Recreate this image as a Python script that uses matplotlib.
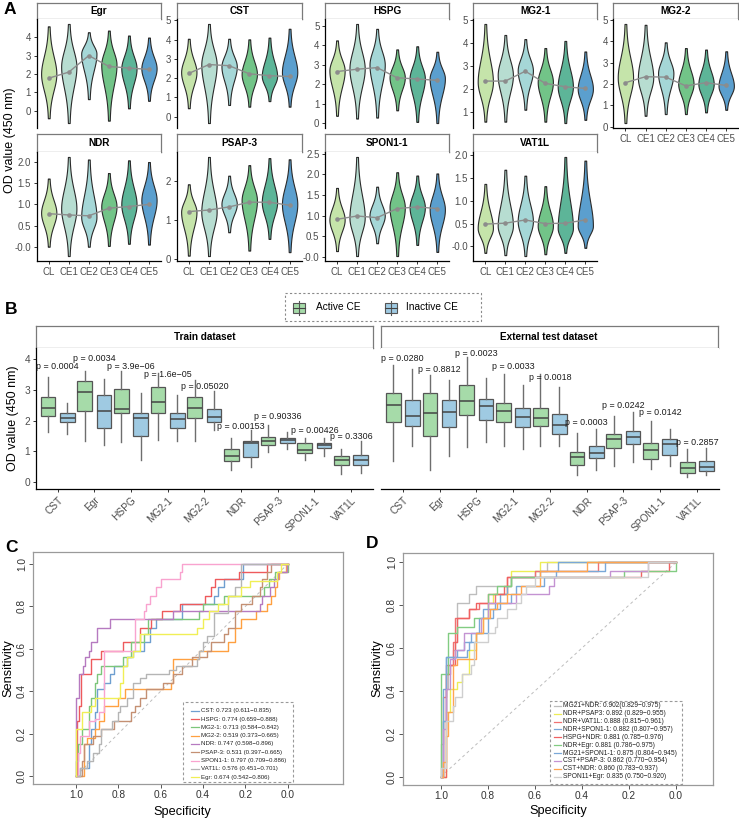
import numpy as np
import matplotlib
matplotlib.use('Agg')
import matplotlib.pyplot as plt
from matplotlib.patches import Rectangle
from matplotlib.lines import Line2D

plt.rcParams['font.family'] = ['Liberation Sans', 'DejaVu Sans']

W, H = 739, 819
fig = plt.figure(figsize=(W / 100, H / 100), dpi=100)

# ---------------- data: panel A (violins) ----------------
stages = ['CL', 'CE1', 'CE2', 'CE3', 'CE4', 'CE5']
stage_colors = ['#c5e4aa', '#b7ddd1', '#a5d7d7', '#72c488', '#5db598', '#5b9fce']
genes_A = ['Egr', 'CST', 'HSPG', 'MG2-1', 'MG2-2', 'NDR', 'PSAP-3', 'SPON1-1', 'VAT1L']

egr_min = [-0.41, -0.67, 0.63, -0.54, 0.13, 0.54]
egr_max = [4.59, 4.72, 4.27, 4.36, 4.09, 3.98]
egr_mean = [1.77, 2.10, 3.00, 2.41, 2.32, 2.25]
egr_mode = [2.0, 2.4, 3.1, 2.5, 2.3, 2.3]

cst_min = [0.43, -0.34, 0.60, 0.51, 0.80, 0.51]
cst_max = [4.04, 4.81, 4.04, 4.01, 4.10, 4.56]
cst_mean = [2.24, 2.70, 2.64, 2.22, 2.12, 2.08]
cst_mode = [2.3, 2.7, 2.6, 2.2, 2.1, 2.3]

hspg_min = [0.39, 0.25, 0.30, 0.67, 0.08, 0.02]
hspg_max = [4.24, 5.08, 4.83, 3.78, 3.94, 3.66]
hspg_mean = [2.65, 2.77, 2.85, 2.33, 2.27, 2.20]
hspg_mode = [2.7, 2.8, 3.0, 2.35, 2.3, 2.3]

mg21_min = [0.57, 0.57, 1.09, 0.57, 0.51, 0.65]
mg21_max = [4.83, 4.35, 4.17, 3.78, 4.09, 3.63]
mg21_mean = [2.34, 2.34, 2.77, 2.24, 2.09, 2.02]
mg21_mode = [2.3, 2.6, 2.8, 2.3, 2.1, 2.0]

mg22_min = [0.17, 0.51, 0.59, 0.59, 0.67, 0.79]
mg22_max = [4.81, 4.77, 3.95, 3.68, 3.61, 3.53]
mg22_mean = [2.06, 2.34, 2.32, 1.91, 2.06, 1.93]
mg22_mode = [2.3, 2.3, 2.5, 2.0, 2.0, 1.9]

ndr_min = [0.0, -0.22, 0.0, 0.02, 0.07, 0.05]
ndr_max = [1.61, 2.12, 2.06, 1.74, 2.04, 2.0]
ndr_mean = [0.78, 0.75, 0.73, 0.91, 0.95, 1.0]
ndr_mode = [0.8, 0.9, 0.7, 0.95, 1.0, 1.1]

psap_min = [0.08, 0.07, 0.68, 0.21, 0.51, 0.17]
psap_max = [1.91, 2.61, 2.13, 2.40, 2.58, 2.55]
psap_mean = [1.21, 1.25, 1.33, 1.45, 1.45, 1.37]
psap_mode = [1.2, 1.2, 1.4, 1.5, 1.45, 1.4]

spon_min = [0.14, 0.02, 0.33, 0.02, 0.29, 0.12]
spon_max = [1.67, 2.42, 1.70, 2.05, 1.97, 2.02]
spon_mean = [0.91, 0.99, 0.95, 1.17, 1.21, 1.17]
spon_mode = [0.9, 0.95, 1.0, 1.2, 1.2, 1.15]

vat_min = [-0.14, -0.19, -0.21, -0.17, -0.14, -0.03]
vat_max = [1.37, 1.68, 1.55, 1.32, 1.96, 1.88]
vat_mean = [0.49, 0.51, 0.58, 0.50, 0.51, 0.58]
vat_mode = [0.4, 0.45, 0.55, 0.45, 0.4, 0.45]

# ---------------- data: panel B (boxplots) ----------------
genes_B = ['CST', 'Egr', 'HSPG', 'MG2-1', 'MG2-2', 'NDR', 'PSAP-3', 'SPON1-1', 'VAT1L']

train_act_lo = [1.62, 1.32, 1.30, 1.37, 1.35, 0.40, 0.99, 0.70, 0.26]
train_act_q1 = [2.16, 2.32, 2.24, 2.24, 2.08, 0.67, 1.19, 0.96, 0.56]
train_act_med = [2.42, 2.92, 2.37, 2.62, 2.40, 0.86, 1.34, 1.03, 0.72]
train_act_q3 = [2.78, 3.30, 3.03, 3.10, 2.78, 1.08, 1.48, 1.26, 0.86]
train_act_hi = [3.43, 3.61, 3.61, 3.57, 3.34, 1.43, 1.86, 1.43, 1.08]

train_ina_lo = [1.56, 1.21, 0.70, 1.34, 1.68, 0.49, 1.08, 0.86, 0.29]
train_ina_q1 = [1.95, 1.75, 1.51, 1.77, 1.95, 0.81, 1.26, 1.10, 0.56]
train_ina_med = [2.10, 2.32, 2.08, 2.04, 2.11, 1.26, 1.36, 1.19, 0.72]
train_ina_q3 = [2.26, 2.85, 2.24, 2.24, 2.37, 1.35, 1.43, 1.26, 0.89]
train_ina_hi = [2.56, 3.35, 2.91, 2.83, 2.96, 1.68, 1.62, 1.43, 1.34]

test_act_lo = [0.67, 0.38, 1.14, 1.16, 1.18, 0.22, 0.51, 0.42, 0.15]
test_act_q1 = [1.97, 1.51, 2.18, 1.97, 1.81, 0.56, 1.10, 0.75, 0.29]
test_act_med = [2.51, 2.24, 2.65, 2.32, 2.08, 0.81, 1.39, 1.03, 0.45]
test_act_q3 = [2.89, 2.89, 3.16, 2.58, 2.42, 0.99, 1.57, 1.26, 0.65]
test_act_hi = [3.83, 3.50, 4.08, 3.51, 3.51, 1.59, 2.16, 2.00, 1.07]

test_ina_lo = [1.16, 0.85, 1.29, 1.08, 1.16, 0.40, 0.65, 0.51, 0.22]
test_ina_q1 = [1.81, 1.78, 2.02, 1.78, 1.56, 0.78, 1.23, 0.89, 0.37]
test_ina_med = [2.16, 2.29, 2.48, 2.13, 1.86, 0.96, 1.48, 1.23, 0.49]
test_ina_q3 = [2.67, 2.67, 2.72, 2.40, 2.22, 1.16, 1.66, 1.39, 0.69]
test_ina_hi = [3.70, 3.32, 3.39, 3.16, 3.09, 1.73, 2.29, 1.72, 1.10]

train_p = ['0.0004', '0.0034', '3.9e\u221206', '1.6e\u221205', '0.05020', '0.00153', '0.90336', '0.00426', '0.3306']
train_p_y = [3.75, 4.02, 3.77, 3.50, 3.12, 1.80, 2.15, 1.68, 1.48]
test_p = ['0.0280', '0.8812', '0.0023', '0.0033', '0.0018', '0.0003', '0.0242', '0.0142', '0.2857']
test_p_y = [4.04, 3.66, 4.18, 3.78, 3.42, 1.95, 2.51, 2.26, 1.29]

# ---------------- data: panel C (single-marker ROC) ----------------
c_labels = ['CST: 0.723 (0.611\u22120.835)', 'HSPG: 0.774 (0.659\u22120.888)', 'MG2-1: 0.713 (0.584\u22120.842)',
            'MG2-2: 0.519 (0.373\u22120.665)', 'NDR: 0.747 (0.598\u22120.896)', 'PSAP-3: 0.531 (0.397\u22120.665)',
            'SPON1-1: 0.797 (0.709\u22120.886)', 'VAT1L: 0.576 (0.451\u22120.701)', 'Egr: 0.674 (0.542\u22120.806)']
c_colors = ['#6f9fd0', '#ee5a5c', '#7cc67a', '#ffa040', '#b67ac0', '#c49073', '#f9a3cf', '#b5b5b5', '#f0ef55']

cst_spec = [1, 0.98, 0.94, 0.93, 0.91, 0.90, 0.87, 0.84, 0.82, 0.76, 0.73, 0.68, 0.65, 0.62, 0.50, 0.50, 0.35, 0.33, 0.30, 0.21, 0.21, 0.0]
cst_sens = [0, 0.04, 0.15, 0.22, 0.30, 0.41, 0.44, 0.48, 0.52, 0.56, 0.59, 0.63, 0.70, 0.74, 0.78, 0.81, 0.85, 0.89, 0.93, 0.96, 1.0, 1.0]
hspg_spec = [1, 0.997, 0.986, 0.976, 0.93, 0.88, 0.776, 0.70, 0.647, 0.595, 0.51, 0.39, 0.364, 0.343, 0.228, 0.10, 0.0]
hspg_sens = [0, 0.26, 0.33, 0.48, 0.55, 0.59, 0.63, 0.70, 0.74, 0.78, 0.81, 0.85, 0.89, 0.93, 0.96, 1.0, 1.0]
mg21_spec = [1, 1.0, 0.99, 0.97, 0.94, 0.93, 0.91, 0.90, 0.88, 0.78, 0.74, 0.68, 0.66, 0.42, 0.40, 0.30, 0.11, 0.09, 0.06, 0.0, 0.0]
mg21_sens = [0, 0.07, 0.15, 0.22, 0.33, 0.37, 0.44, 0.48, 0.52, 0.56, 0.63, 0.67, 0.74, 0.78, 0.81, 0.85, 0.89, 0.93, 0.96, 1.0, 1.0]
mg22_spec = [1, 0.96, 0.95, 0.91, 0.89, 0.87, 0.80, 0.77, 0.55, 0.54, 0.42, 0.28, 0.25, 0.22, 0.15, 0.10, 0.08, 0.06, 0.05, 0.04, 0.01, 0.0]
mg22_sens = [0, 0.15, 0.18, 0.22, 0.26, 0.33, 0.37, 0.41, 0.44, 0.55, 0.59, 0.63, 0.70, 0.74, 0.78, 0.81, 0.85, 0.89, 0.93, 0.96, 1.0, 1.0]
ndr_spec = [1, 1.0, 0.986, 0.969, 0.957, 0.94, 0.93, 0.90, 0.84, 0.54, 0.13, 0.12, 0.083, 0.065, 0.044, 0.005, 0.0]
ndr_sens = [0, 0.37, 0.48, 0.52, 0.56, 0.59, 0.63, 0.70, 0.74, 0.78, 0.81, 0.85, 0.89, 0.93, 0.96, 1.0, 1.0]
psap_spec = [1, 0.97, 0.96, 0.92, 0.88, 0.82, 0.74, 0.72, 0.70, 0.67, 0.59, 0.54, 0.50, 0.45, 0.38, 0.36, 0.30, 0.28, 0.25, 0.22, 0.17, 0.13, 0.12, 0.10, 0.08, 0.0]
psap_sens = [0, 0.07, 0.15, 0.19, 0.22, 0.26, 0.30, 0.33, 0.37, 0.41, 0.44, 0.48, 0.52, 0.56, 0.59, 0.63, 0.67, 0.70, 0.78, 0.81, 0.85, 0.89, 0.93, 0.96, 1.0, 1.0]
spon_spec = [1, 0.99, 0.98, 0.94, 0.91, 0.89, 0.87, 0.72, 0.68, 0.67, 0.65, 0.62, 0.60, 0.51, 0.50, 0.0]
spon_sens = [0, 0.11, 0.19, 0.26, 0.27, 0.30, 0.59, 0.74, 0.78, 0.81, 0.85, 0.89, 0.93, 0.96, 1.0, 1.0]
vat_spec = [1, 0.98, 0.95, 0.92, 0.89, 0.88, 0.83, 0.80, 0.79, 0.76, 0.73, 0.70, 0.67, 0.56, 0.53, 0.43, 0.42, 0.40, 0.38, 0.35, 0.28, 0.28, 0.25, 0.22, 0.0]
vat_sens = [0, 0.04, 0.07, 0.11, 0.15, 0.22, 0.26, 0.30, 0.33, 0.37, 0.44, 0.46, 0.48, 0.50, 0.52, 0.55, 0.59, 0.63, 0.66, 0.77, 0.78, 0.85, 0.89, 1.0, 1.0]
egr_spec = [1, 1.0, 0.97, 0.93, 0.91, 0.80, 0.79, 0.78, 0.76, 0.73, 0.70, 0.45, 0.43, 0.40, 0.37, 0.33, 0.28, 0.22, 0.18, 0.05, 0.03, 0.0]
egr_sens = [0, 0.22, 0.30, 0.33, 0.37, 0.37, 0.44, 0.52, 0.56, 0.59, 0.67, 0.67, 0.70, 0.74, 0.78, 0.81, 0.85, 0.89, 0.92, 0.96, 1.0, 1.0]

# ---------------- data: panel D (combination ROC) ----------------
d_labels = ['MG21+NDR: 0.902(0.829\u22120.975)', 'NDR+PSAP3: 0.892 (0.829\u22120.955)', 'NDR+VAT1L: 0.888 (0.815\u22120.961)',
            'NDR+SPON1-1: 0.882 (0.807\u22120.957)', 'HSPG+NDR: 0.881 (0.785\u22120.976)', 'NDR+Egr: 0.881 (0.786\u22120.975)',
            'MG21+SPON1-1: 0.875 (0.804\u22120.945)', 'CST+PSAP-3: 0.862 (0.770\u22120.954)', 'CST+NDR: 0.860 (0.783\u22120.937)',
            'SPON11+Egr: 0.835 (0.750\u22120.920)']
d_colors = ['#bdbdbd', '#eded55', '#f07272', '#7aa8d8', '#f06262', '#82cc82', '#7aa8d8', '#c493d2', '#ffa54f', '#cfcfcf']

d1_spec = [1, 1.0, 0.99, 0.98, 0.97, 0.95, 0.94, 0.93, 0.88, 0.85, 0.70, 0.60, 0.55, 0.0]
d1_sens = [0, 0.15, 0.26, 0.41, 0.52, 0.59, 0.63, 0.81, 0.85, 0.89, 0.93, 0.96, 1.0, 1.0]
d2_spec = [1, 0.98, 0.96, 0.93, 0.91, 0.88, 0.88, 0.85, 0.82, 0.80, 0.78, 0.72, 0.70, 0.58, 0.0]
d2_sens = [0, 0.30, 0.41, 0.44, 0.48, 0.52, 0.59, 0.67, 0.74, 0.81, 0.85, 0.89, 0.96, 1.0, 1.0]
d3_spec = [1, 0.99, 0.98, 0.95, 0.94, 0.88, 0.84, 0.77, 0.72, 0.60, 0.33, 0.0]
d3_sens = [0, 0.37, 0.52, 0.63, 0.74, 0.78, 0.81, 0.85, 0.93, 0.96, 1.0, 1.0]
d4_spec = [1, 0.99, 0.98, 0.93, 0.90, 0.87, 0.84, 0.82, 0.77, 0.75, 0.72, 0.70, 0.58, 0.50, 0.0]
d4_sens = [0, 0.41, 0.56, 0.59, 0.63, 0.67, 0.74, 0.78, 0.81, 0.85, 0.89, 0.93, 0.96, 1.0, 1.0]
d5_spec = [1, 0.98, 0.98, 0.96, 0.94, 0.93, 0.88, 0.85, 0.80, 0.73, 0.72, 0.15, 0.03, 0.0]
d5_sens = [0, 0.37, 0.48, 0.52, 0.63, 0.74, 0.78, 0.81, 0.85, 0.89, 0.93, 0.96, 1.0, 1.0]
d6_spec = [1, 1.0, 0.97, 0.93, 0.86, 0.80, 0.76, 0.70, 0.22, 0.03, 0.0]
d6_sens = [0, 0.48, 0.67, 0.70, 0.74, 0.85, 0.89, 0.93, 0.96, 0.96, 1.0]
d7_spec = [1, 0.99, 0.98, 0.89, 0.88, 0.85, 0.80, 0.78, 0.75, 0.70, 0.68, 0.56, 0.51, 0.30, 0.0]
d7_sens = [0, 0.26, 0.56, 0.59, 0.63, 0.67, 0.74, 0.78, 0.81, 0.85, 0.89, 0.93, 0.96, 1.0, 1.0]
d8_spec = [1, 0.99, 0.98, 0.98, 0.96, 0.94, 0.90, 0.83, 0.80, 0.68, 0.54, 0.52, 0.28, 0.12, 0.0]
d8_sens = [0, 0.22, 0.26, 0.41, 0.55, 0.59, 0.67, 0.74, 0.81, 0.85, 0.89, 0.93, 0.96, 1.0, 1.0]
d9_spec = [1, 0.99, 0.98, 0.97, 0.95, 0.93, 0.85, 0.82, 0.79, 0.76, 0.72, 0.66, 0.58, 0.38, 0.0]
d9_sens = [0, 0.07, 0.19, 0.30, 0.52, 0.55, 0.67, 0.74, 0.78, 0.81, 0.85, 0.89, 0.96, 1.0, 1.0]
d10_spec = [1, 1.0, 0.98, 0.95, 0.94, 0.91, 0.87, 0.86, 0.80, 0.77, 0.76, 0.72, 0.68, 0.66, 0.64, 0.60, 0.12, 0.0]
d10_sens = [0, 0.04, 0.26, 0.33, 0.37, 0.48, 0.52, 0.63, 0.67, 0.70, 0.74, 0.78, 0.81, 0.85, 0.89, 0.93, 1.0, 1.0]

# ---------------- helpers ----------------
def px_axes(l, t, r, b):
    return fig.add_axes([l / W, 1 - b / H, (r - l) / W, (b - t) / H])

def ftext(x, y, s, **kw):
    fig.text(x / W, 1 - y / H, s, **kw)

def fline(xs, ys, **kw):
    fig.add_artist(Line2D([x / W for x in xs], [1 - y / H for y in ys], transform=fig.transFigure, **kw))

def frect(l, t, r, b, **kw):
    fig.add_artist(Rectangle((l / W, 1 - b / H), (r - l) / W, (b - t) / H, transform=fig.transFigure, **kw))

def strip(l, t, r, b, label, size=7.2):
    ax = px_axes(l, t, r, b)
    ax.set_xticks([]); ax.set_yticks([])
    for s in ax.spines.values():
        s.set_color('#7a7a7a'); s.set_linewidth(0.9)
    ax.text(0.5, 0.5, label, ha='center', va='center', fontsize=size, fontweight='bold', transform=ax.transAxes)

def violin(ax, x, lo, hi, mode, color, halfw=0.38):
    y = np.linspace(lo, hi, 240)
    s_up = max(hi - mode, 1e-3) * 0.36
    s_dn = max(mode - lo, 1e-3) * 0.36
    s = np.where(y >= mode, s_up, s_dn)
    d = (y - mode) / s
    w = 0.85 * np.exp(-0.5 * d ** 2) + 0.15 * np.exp(-0.5 * (d / 3.0) ** 2)
    w = w / w.max() * halfw
    ax.fill_betweenx(y, x - w, x + w, facecolor=color, edgecolor='#2b2b2b', lw=0.8, zorder=2)

GREY_TXT = '#4d4d4d'

# ---------------- Panel A ----------------
A_sets = [(egr_min, egr_max, egr_mean, egr_mode), (cst_min, cst_max, cst_mean, cst_mode),
          (hspg_min, hspg_max, hspg_mean, hspg_mode), (mg21_min, mg21_max, mg21_mean, mg21_mode),
          (mg22_min, mg22_max, mg22_mean, mg22_mode), (ndr_min, ndr_max, ndr_mean, ndr_mode),
          (psap_min, psap_max, psap_mean, psap_mode), (spon_min, spon_max, spon_mean, spon_mode),
          (vat_min, vat_max, vat_mean, vat_mode)]
A_steps = [1, 1, 1, 1, 1, 0.5, 1, 0.5, 0.5]
cols = [(36.7, 161), (176.7, 301.7), (325, 449.3), (473.3, 597.3), (613.3, 738.3)]
rows = [(2.7, 19, 128), (134, 152, 261)]

for i, g in enumerate(genes_A):
    r, c = divmod(i, 5)
    l, rr = cols[c]
    st, pt, pb = rows[r]
    strip(l, st, rr, pt, g)
    ax = px_axes(l, pt, rr, pb)
    vmin, vmax, vmean, vmode = A_sets[i]
    xs = np.arange(1, 7)
    for k in range(6):
        violin(ax, xs[k], vmin[k], vmax[k], vmode[k], stage_colors[k])
    ax.plot(xs, vmean, color='#8c8c8c', lw=1.0, zorder=3)
    ax.scatter(xs, vmean, s=11, color='#8c8c8c', zorder=4, linewidths=0)
    lo, hi = min(vmin), max(vmax)
    rg = hi - lo
    ax.set_ylim(lo - 0.05 * rg, hi + 0.05 * rg)
    ax.set_xlim(0.4, 6.6)
    step = A_steps[i]
    ticks = np.arange(np.ceil((lo - 0.05 * rg) / step) * step, hi + 0.05 * rg + 1e-9, step)
    ax.set_yticks(ticks)
    ax.set_yticklabels([('%.1f' % t) if step < 1 else ('%d' % round(t)) for t in ticks])
    for s in ['top', 'right']:
        ax.spines[s].set_visible(False)
    ax.spines['left'].set_linewidth(0.9)
    ax.tick_params(axis='y', labelsize=7, colors='#333333', labelcolor=GREY_TXT, length=2.5, width=0.7, pad=1.5)
    show_x = (r == 1) or (c == 4)
    if show_x:
        ax.spines['bottom'].set_linewidth(0.9)
        ax.set_xticks(xs)
        ax.set_xticklabels(stages)
        ax.tick_params(axis='x', labelsize=7, colors='#333333', labelcolor=GREY_TXT, length=2.5, width=0.7, pad=1.5)
    else:
        ax.spines['bottom'].set_visible(False)
        ax.set_xticks([])

ftext(10, 140, 'OD value (450 nm)', rotation=90, ha='center', va='center', fontsize=9)
ftext(4, 10, 'A', fontsize=12.5, fontweight='bold', ha='left', va='center')

# ---------------- Panel B ----------------
ftext(5, 309, 'B', fontsize=12.5, fontweight='bold', ha='left', va='center')
frect(285, 293, 481, 321, facecolor='none', edgecolor='#8a8a8a', lw=0.8, linestyle=(0, (2, 2)))

def legend_box(l, r, t, b, color):
    xc = (l + r) / 2
    fline([xc, xc], [t - 2, b + 2], color='#555555', lw=0.8)
    frect(l, t, r, b, facecolor=color, edgecolor='#555555', lw=0.8)
    fline([l, r], [(t + b) / 2, (t + b) / 2], color='#444444', lw=0.8)

ACT_C, INA_C = '#a6dba9', '#9fcae2'
legend_box(293, 305, 302.5, 312.5, ACT_C)
ftext(316, 307.5, 'Active CE', fontsize=7.3, va='center', ha='left')
legend_box(385, 397, 302.5, 312.5, INA_C)
ftext(406, 307.5, 'Inactive CE', fontsize=7.3, va='center', ha='left')

def stats_list(lo, q1, med, q3, hi):
    return [dict(whislo=lo[j], q1=q1[j], med=med[j], q3=q3[j], whishi=hi[j], fliers=[]) for j in range(len(lo))]

B_panels = [
    ('Train dataset', (35.7, 373), (train_act_lo, train_act_q1, train_act_med, train_act_q3, train_act_hi),
     (train_ina_lo, train_ina_q1, train_ina_med, train_ina_q3, train_ina_hi), train_p, train_p_y),
    ('External test dataset', (380.7, 719), (test_act_lo, test_act_q1, test_act_med, test_act_q3, test_act_hi),
     (test_ina_lo, test_ina_q1, test_ina_med, test_ina_q3, test_ina_hi), test_p, test_p_y),
]
for bi, (title, (l, r), act, ina, pv, pvy) in enumerate(B_panels):
    strip(l, 325.7, r - (1.5 if bi == 1 else 0), 348.3, title, size=7.2)
    ax = px_axes(l, 348.3, r, 489)
    pos = np.arange(1, 10)
    for arr, off, col in [(act, -0.26, ACT_C), (ina, 0.26, INA_C)]:
        ax.bxp(stats_list(*arr), positions=pos + off, widths=0.40, showfliers=False, showcaps=False,
               patch_artist=True,
               boxprops=dict(facecolor=col, edgecolor='#555555', linewidth=0.9),
               whiskerprops=dict(color='#6e6e6e', linewidth=1.0),
               medianprops=dict(color='#444444', linewidth=1.1))
    for j in range(9):
        ax.text(pos[j], pvy[j], 'p = ' + pv[j], ha='center', va='center', fontsize=6.4, color='#1a1a1a')
    ax.set_xlim(0.4, 9.6)
    ax.set_ylim(-0.23, 4.36)
    ax.set_xticks(pos)
    ax.set_xticklabels(genes_B, rotation=45, ha='right', rotation_mode='anchor')
    ax.tick_params(axis='x', labelsize=7.3, colors='#333333', labelcolor=GREY_TXT, length=2.5, width=0.7, pad=2)
    for s in ['top', 'right']:
        ax.spines[s].set_visible(False)
    ax.spines['bottom'].set_linewidth(0.9)
    if bi == 0:
        ax.set_yticks([0, 1, 2, 3, 4])
        ax.tick_params(axis='y', labelsize=7.3, colors='#333333', labelcolor=GREY_TXT, length=2.5, width=0.7, pad=1.5)
        ax.spines['left'].set_linewidth(0.9)
    else:
        ax.spines['left'].set_visible(False)
        ax.set_yticks([])
ftext(13, 418, 'OD value (450 nm)', rotation=90, ha='center', va='center', fontsize=9)

# ---------------- Panels C & D ----------------
def roc_axes(l, t, r, b, xlim, ylim):
    ax = px_axes(l, t, r, b)
    ax.set_xlim(*xlim)
    ax.set_ylim(*ylim)
    for s in ax.spines.values():
        s.set_color('#9a9a9a'); s.set_linewidth(0.9)
    ax.set_xticks([1.0, 0.8, 0.6, 0.4, 0.2, 0.0])
    ax.set_xticklabels(['1.0', '0.8', '0.6', '0.4', '0.2', '0.0'])
    ax.set_yticks([0.0, 0.2, 0.4, 0.6, 0.8, 1.0])
    ax.set_yticklabels(['0.0', '0.2', '0.4', '0.6', '0.8', '1.0'], rotation=90, va='center')
    ax.tick_params(labelsize=7.3, colors='#555555', labelcolor='#333333', length=3, width=0.7, pad=1.5)
    ax.plot([1, 0], [0, 1], color='#bdbdbd', lw=0.7, linestyle=(0, (3, 3)), zorder=1)
    return ax

axC = roc_axes(33.3, 551.7, 343.3, 784, (1.2017, -0.2626), (-0.0377, 1.058))
C_curves = [(cst_spec, cst_sens), (hspg_spec, hspg_sens), (mg21_spec, mg21_sens), (mg22_spec, mg22_sens),
            (ndr_spec, ndr_sens), (psap_spec, psap_sens), (spon_spec, spon_sens), (vat_spec, vat_sens),
            (egr_spec, egr_sens)]
for (sp, se), col in zip(C_curves, c_colors):
    axC.plot(sp, se, drawstyle='steps-post', color=col, lw=1.0, zorder=2)
ftext(182, 812, 'Specificity', ha='center', va='center', fontsize=9.2)
ftext(8, 668, 'Sensitivity', ha='center', va='center', fontsize=9.2, rotation=90)
ftext(5, 548, 'C', fontsize=12.5, fontweight='bold', ha='left', va='center')

frect(183, 702, 293, 782, facecolor='white', edgecolor='#9a9a9a', lw=0.8, linestyle=(0, (2.5, 2)))
for k, (lab, col) in enumerate(zip(c_labels, c_colors)):
    y = 710.7 + k * 8.3
    fline([191, 199], [y, y], color=col, lw=0.9)
    ftext(200.7, y, lab, fontsize=4.4, va='center', ha='left', color='#222222')

axD = roc_axes(403.3, 552.7, 713.3, 785, (1.16, -0.159), (-0.039, 1.045))
D_curves = [(d1_spec, d1_sens), (d2_spec, d2_sens), (d3_spec, d3_sens), (d4_spec, d4_sens), (d5_spec, d5_sens),
            (d6_spec, d6_sens), (d7_spec, d7_sens), (d8_spec, d8_sens), (d9_spec, d9_sens), (d10_spec, d10_sens)]
for (sp, se), col in zip(D_curves, d_colors):
    axD.plot(sp, se, drawstyle='steps-post', color=col, lw=1.0, zorder=2)
ftext(558, 811, 'Specificity', ha='center', va='center', fontsize=9.2)
ftext(377, 668, 'Sensitivity', ha='center', va='center', fontsize=9.2, rotation=90)
ftext(366, 543, 'D', fontsize=12.5, fontweight='bold', ha='left', va='center')

frect(550, 700.7, 681.7, 784.3, facecolor='white', edgecolor='#9a9a9a', lw=0.8, linestyle=(0, (2.5, 2)))
for k, (lab, col) in enumerate(zip(d_labels, d_colors)):
    y = 705.7 + k * 7.9
    fline([554, 561], [y, y], color=col, lw=0.9)
    ftext(562.7, y, lab, fontsize=4.8, va='center', ha='left', color='#222222')

fig.savefig('out.png', dpi=100)
